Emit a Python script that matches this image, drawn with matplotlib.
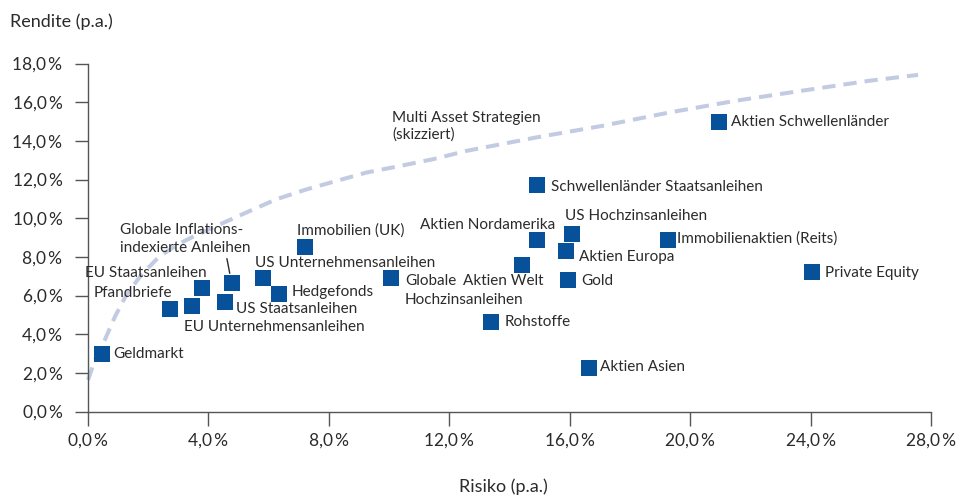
import numpy as np
import matplotlib
matplotlib.use("Agg")
import matplotlib.pyplot as plt

plt.rcParams['font.family'] = ['Lato', 'DejaVu Sans']

# Anlageklassen: Risiko (x) und Rendite (y) in % p.a.
namen = ["Geldmarkt", "Pfandbriefe", "EU Unternehmensanleihen", "EU Staatsanleihen",
         "Globale Inflations-\nindexierte Anleihen", "US Staatsanleihen",
         "US Unternehmensanleihen", "Hedgefonds", "Immobilien (UK)",
         "Globale\nHochzinsanleihen", "Aktien Welt", "Aktien Nordamerika",
         "US Hochzinsanleihen", "Aktien Europa", "Gold", "Rohstoffe",
         "Schwellenländer Staatsanleihen", "Aktien Schwellenländer",
         "Immobilienaktien (Reits)", "Private Equity", "Aktien Asien"]
risiko = [0.45, 2.74, 3.45, 3.77, 4.77, 4.55, 5.82, 6.35, 7.2, 10.08, 14.4, 14.93,
          16.06, 15.89, 15.93, 13.37, 14.93, 20.95, 19.25, 24.06, 16.63]
rendite = [2.98, 5.30, 5.44, 6.37, 6.65, 5.68, 6.88, 6.08, 8.52, 6.88, 7.57, 8.86,
           9.16, 8.29, 6.79, 4.61, 11.70, 14.99, 8.86, 7.20, 2.27]

# Multi Asset Strategien (skizzierte Kurve)
kurve_x = [0.0, 0.23, 0.56, 0.9, 1.28, 1.78, 2.39, 3.05, 3.7, 4.27, 5.27, 6.26, 7.26,
           8.26, 9.25, 10.36, 11.46, 12.57, 14.9, 17.1, 19.32, 21.54, 23.75, 25.96, 27.57]
kurve_y = [1.63, 2.67, 3.71, 4.92, 6.05, 7.08, 8.05, 8.7, 9.2, 9.6, 10.3, 10.98, 11.49,
           11.93, 12.36, 12.70, 13.05, 13.48, 14.18, 14.78, 15.47, 16.08, 16.6, 17.11, 17.41]

x_ticks = [0, 4, 8, 12, 16, 20, 24, 28]
y_ticks = [0, 2, 4, 6, 8, 10, 12, 14, 16, 18]

# Beschriftungs-Versatz in Pixel (dx, dy, Ausrichtung)
versatz = [(11.6, 0, 'left'), (2, 16, 'right'), (-7.7, -20.6, 'left'), (5.6, 15.4, 'right'),
           (-111.7, 44.1, 'left'), (10.7, -7.3, 'left'), (-8.3, 15.7, 'left'),
           (12.4, 1.6, 'left'), (-7.3, 16.3, 'left'), (13.3, -11.8, 'left'),
           (21.6, -16, 'right'), (18, 15.7, 'right'), (-6.7, 18.3, 'left'),
           (12.6, -5.6, 'left'), (13.3, -1, 'left'), (14.3, 0, 'left'), (14, -1.3, 'left'),
           (12.7, 0, 'left'), (9.6, 1.7, 'left'), (12.3, -0.6, 'left'), (11.7, 0.4, 'left')]

textfarbe = '#2b2b2b'
blau = '#07509a'
px = 72 / 100.0  # Pixel -> Punkt
zeilenabstand = 18.5  # Pixel

fig = plt.figure(figsize=(9.62, 4.97), dpi=100)
ax = fig.add_axes([88 / 962, 1 - 411.5 / 497, 843 / 962, 348 / 497])

ax.plot(kurve_x, kurve_y, color='#c3cbe3', lw=2.9, linestyle=(0, (3.3, 2.0)),
        solid_capstyle='butt', dash_capstyle='butt', clip_on=False, zorder=1)
ax.plot(risiko, rendite, linestyle='none', marker='s', markersize=11.5,
        color=blau, markeredgewidth=0, clip_on=False, zorder=3)

for n, x, y, (dx, dy, ha) in zip(namen, risiko, rendite, versatz):
    zeilen = n.split('\n')
    for i, z in enumerate(zeilen):
        dz = dy + ((len(zeilen) - 1) / 2.0 - i) * zeilenabstand
        ax.annotate(z, xy=(x, y), xytext=(dx * px, dz * px), textcoords='offset points',
                    ha=ha, va='center', fontsize=11, color=textfarbe, zorder=4)

# Hinweislinie fuer Inflationsanleihen
ax.annotate('', xy=(risiko[4], rendite[4]), xytext=(-4.7 * px, 24.3 * px),
            textcoords='offset points',
            arrowprops=dict(arrowstyle='-', color=textfarbe, lw=1.0,
                            shrinkA=0, shrinkB=9.8 * px))

ax.text(10.1, 14.76, "Multi Asset Strategien\n(skizziert)", ha='left', va='center',
        fontsize=11, color=textfarbe, linespacing=1.25)

ax.set_xlim(0, 28)
ax.set_ylim(0, 18)
ax.set_xticks(x_ticks)
ax.set_yticks(y_ticks)
ax.set_xticklabels([f"{v:.1f}".replace('.', ',') + "\u2009%" for v in x_ticks])
ax.set_yticklabels([f"{v:.1f}".replace('.', ',') + "\u2009%" for v in y_ticks])
for s in ['top', 'right']:
    ax.spines[s].set_visible(False)
for s in ['left', 'bottom']:
    ax.spines[s].set_color('#555555')
    ax.spines[s].set_linewidth(1.0)
ax.tick_params(axis='both', direction='out', color='#555555', width=1.0,
               labelsize=12.5, labelcolor=textfarbe)
ax.tick_params(axis='y', length=9.4, pad=9)
ax.tick_params(axis='x', length=10, pad=5)
ax.patch.set_alpha(0)

fig.text(10 / 962, 1 - 22 / 497, "Rendite (p.a.)", ha='left', va='center',
         fontsize=13, color=textfarbe)
fig.text(503.5 / 962, 1 - 487 / 497, "Risiko (p.a.)", ha='center', va='center',
         fontsize=13, color=textfarbe)

fig.savefig("out.png", dpi=100)
